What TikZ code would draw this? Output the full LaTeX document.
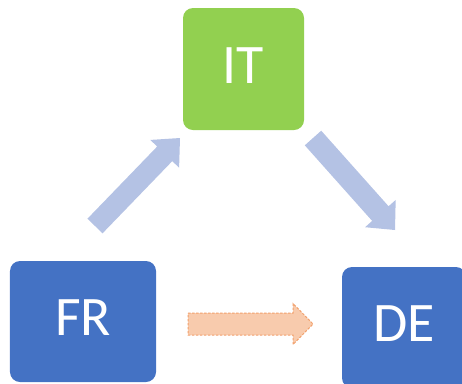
\documentclass[tikz,border=0pt]{standalone}
\usepackage{fontspec}
\setmainfont{Carlito}
\usetikzlibrary{calc}
\definecolor{itgreen}{HTML}{92D050}
\definecolor{boxblue}{HTML}{4472C4}
\definecolor{arrowblue}{HTML}{B4C2E4}
\definecolor{orangefill}{HTML}{F8CBAD}
\definecolor{orangeline}{HTML}{F2A06C}
\newcommand{\blockarrow}[6]{%
  \path[#1] ($(#2)!#4!90:(#3)$) -- ($(#3)!#6!(#2)!#4!-90:(#2)$) -- ($(#3)!#6!(#2)!#5!-90:(#2)$) -- (#3)
   -- ($(#3)!#6!(#2)!#5!90:(#2)$) -- ($(#3)!#6!(#2)!#4!90:(#2)$) -- ($(#2)!#4!-90:(#3)$) -- cycle;}
\tikzset{
  box/.style={rectangle, rounded corners=10bp, text=white, inner sep=0pt,
    font=\fontsize{56}{60}\selectfont, text height=36bp, text depth=8bp},
  bluearrow/.style={fill=arrowblue},
  orangearrow/.style={fill=orangefill, draw=orangeline, line width=1bp, dash pattern=on 2.5bp off 1.5bp}
}
\begin{document}
\begin{tikzpicture}[x=1bp,y=-1bp]
\useasboundingbox (0,0) rectangle (462,383);
\clip (0,0) rectangle (462,383);
\node[box, fill=itgreen, minimum width=121bp, minimum height=122bp] (it) at (243.5,69) {IT};
\node[box, fill=boxblue, minimum width=146bp, minimum height=121bp] (fr) at (83,321.5) {FR};
\node[box, fill=boxblue, minimum width=124bp, minimum height=121bp] (de) at (404,327.5) {DE};
\coordinate (a1) at (95,226);
\coordinate (b1) at (180,138);
\coordinate (a2) at (313,138);
\coordinate (b2) at (395,230);
\coordinate (a3) at (188,324);
\coordinate (b3) at (313,324);
\blockarrow{bluearrow}{a1}{b1}{10.5bp}{20bp}{22bp}
\blockarrow{bluearrow}{a2}{b2}{11bp}{20.5bp}{22bp}
\blockarrow{orangearrow}{a3}{b3}{11bp}{20.5bp}{20bp}
\end{tikzpicture}
\end{document}
